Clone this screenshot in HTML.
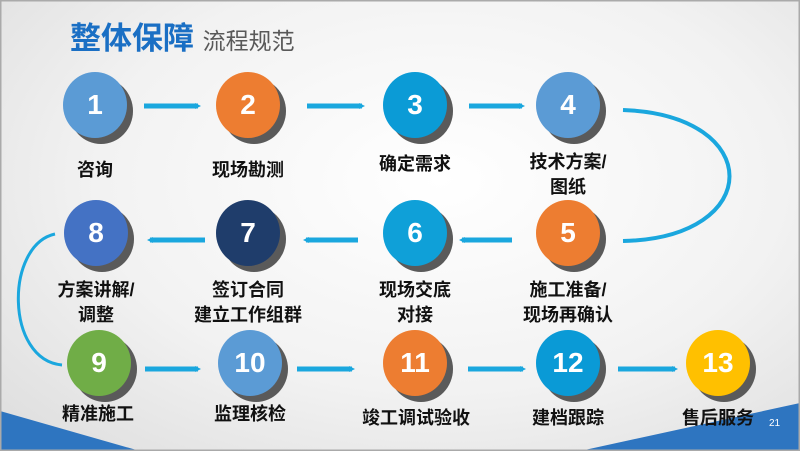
<!DOCTYPE html>
<html><head><meta charset="utf-8"><style>
body{margin:0;width:800px;height:451px;overflow:hidden;font-family:"Liberation Sans","Noto Sans CJK SC",sans-serif;}
.bg{position:absolute;left:0;top:0;width:800px;height:451px;background:radial-gradient(ellipse at 55% 40%,#ffffff 0%,#f2f2f2 55%,#dcdcdc 100%);}
.c{position:absolute;width:64px;height:66px;border-radius:50%;color:#fff;font-weight:bold;font-size:28px;text-align:center;line-height:66px;box-shadow:6px 6px 0 #5a5a5a;}
.l{position:absolute;font-weight:bold;font-size:18px;color:#111;text-align:center;width:160px;line-height:25px;}
</style></head><body>
<div class="bg"></div>
<svg width="800" height="451" style="position:absolute;left:0;top:0">
<polygon points="0,411 0,451 140,451" fill="#2e75c0"/>
<polygon points="800,403 800,451 580,451" fill="#2e75c0"/>
<rect x="0" y="0" width="800" height="451" fill="none" stroke="#aaa" stroke-width="3"/>
<defs><marker id="a" markerWidth="6" markerHeight="6" refX="3" refY="3" orient="auto" markerUnits="userSpaceOnUse"><path d="M0,0 L6,3 L0,6 z" fill="#1aa7de"/></marker></defs>
<g stroke="#1aa7de" stroke-width="5" fill="none">
<line x1="144" y1="106" x2="198" y2="106" marker-end="url(#a)"/>
<line x1="307" y1="106" x2="362" y2="106" marker-end="url(#a)"/>
<line x1="469" y1="106" x2="522" y2="106" marker-end="url(#a)"/>
<line x1="512" y1="240" x2="462" y2="240" marker-end="url(#a)"/>
<line x1="358" y1="240" x2="306" y2="240" marker-end="url(#a)"/>
<line x1="205" y1="240" x2="150" y2="240" marker-end="url(#a)"/>
<line x1="145" y1="369" x2="198" y2="369" marker-end="url(#a)"/>
<line x1="297" y1="369" x2="352" y2="369" marker-end="url(#a)"/>
<line x1="468" y1="369" x2="523" y2="369" marker-end="url(#a)"/>
<line x1="618" y1="369" x2="675" y2="369" marker-end="url(#a)"/>
<path d="M623,110 C765,115 765,238 623,241" stroke-width="4"/>
<path d="M55,234 C5,245 5,360 62,365" stroke-width="3"/>
</g>
</svg>
<div style="position:absolute;left:70px;top:18px;font-size:31px;font-weight:bold;color:#1a6fc4;line-height:42px">整体保障 <span style="font-size:23px;color:#595959;font-weight:normal">流程规范</span></div>
<div class="c" style="left:63px;top:72px;background:#5b9bd5">1</div>
<div class="c" style="left:216px;top:72px;background:#ed7d31">2</div>
<div class="c" style="left:383px;top:72px;background:#0b9bd6">3</div>
<div class="c" style="left:536px;top:72px;background:#5b9bd5">4</div>
<div class="c" style="left:536px;top:200px;background:#ed7d31">5</div>
<div class="c" style="left:383px;top:200px;background:#0fa0d8">6</div>
<div class="c" style="left:216px;top:200px;background:#1f3d6b">7</div>
<div class="c" style="left:64px;top:200px;background:#4472c4">8</div>
<div class="c" style="left:67px;top:330px;background:#70ad47">9</div>
<div class="c" style="left:218px;top:330px;background:#5b9bd5">10</div>
<div class="c" style="left:383px;top:330px;background:#ed7d31">11</div>
<div class="c" style="left:536px;top:330px;background:#0a9ad6">12</div>
<div class="c" style="left:686px;top:330px;background:#ffc000">13</div>
<div class="l" style="left:15px;top:158px">咨询</div>
<div class="l" style="left:168px;top:158px">现场勘测</div>
<div class="l" style="left:335px;top:152px">确定需求</div>
<div class="l" style="left:488px;top:150px">技术方案/<br>图纸</div>
<div class="l" style="left:488px;top:278px">施工准备/<br>现场再确认</div>
<div class="l" style="left:335px;top:278px">现场交底<br>对接</div>
<div class="l" style="left:168px;top:278px">签订合同<br>建立工作组群</div>
<div class="l" style="left:16px;top:278px">方案讲解/<br>调整</div>
<div class="l" style="left:18px;top:402px">精准施工</div>
<div class="l" style="left:170px;top:402px">监理核检</div>
<div class="l" style="left:336px;top:406px">竣工调试验收</div>
<div class="l" style="left:488px;top:406px">建档跟踪</div>
<div class="l" style="left:638px;top:406px">售后服务</div>
<div style="position:absolute;left:769px;top:418px;font-size:10px;color:#fff">21</div>
</body></html>
